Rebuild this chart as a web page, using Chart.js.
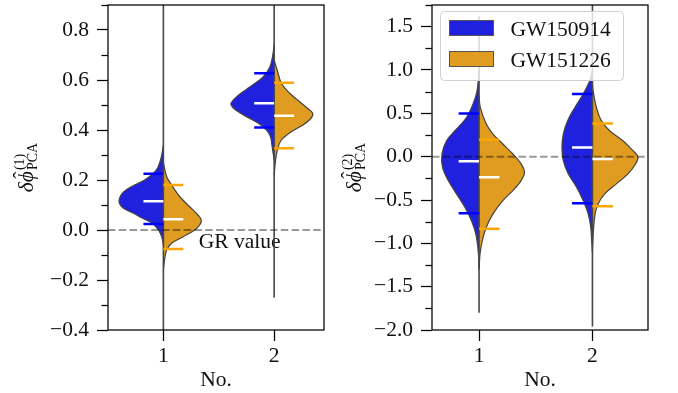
<!DOCTYPE html>
<html><head><meta charset="utf-8">
<script src="https://cdn.jsdelivr.net/npm/chart.js@4/dist/chart.umd.min.js"></script>
<style>
html,body{margin:0;padding:0;background:#fff;}
#wrap{position:relative;width:678px;height:393px;overflow:hidden;}
canvas{position:absolute;top:0;}
#c1{left:0;} #c2{left:339px;}
</style></head><body>
<div id="wrap"><canvas id="c1" width="339" height="393"></canvas><canvas id="c2" width="339" height="393"></canvas></div>
<script>
// ---------- data ----------
const categories = ['1', '2'];
const catPositions = [1, 2];
const seriesNames = ['GW150914', 'GW151226'];

// Panel 1: violin outlines (value, half-width), top -> bottom
const p1BlueCat1Val = [0.34, 0.29, 0.25, 0.227, 0.2, 0.173, 0.147, 0.113, 0.087, 0.067, 0.047, 0.027, 0.0, -0.027, -0.06];
const p1BlueCat1Wid = [0, 0.02, 0.05, 0.09, 0.17, 0.29, 0.37, 0.40, 0.36, 0.27, 0.19, 0.10, 0.045, 0.015, 0];
const p1OrangeCat1Val = [0.27, 0.213, 0.18, 0.133, 0.093, 0.06, 0.04, 0.02, 0.0, -0.027, -0.053, -0.08, -0.113, -0.16];
const p1OrangeCat1Wid = [0, 0.03, 0.074, 0.149, 0.238, 0.312, 0.342, 0.328, 0.283, 0.179, 0.074, 0.03, 0.013, 0];
const p1BlueCat2Val = [0.74, 0.693, 0.653, 0.613, 0.573, 0.54, 0.507, 0.487, 0.46, 0.427, 0.4, 0.373, 0.333, 0.28];
const p1BlueCat2Wid = [0, 0.015, 0.038, 0.098, 0.217, 0.321, 0.39, 0.366, 0.277, 0.143, 0.069, 0.033, 0.018, 0];
const p1OrangeCat2Val = [0.68, 0.627, 0.587, 0.547, 0.513, 0.487, 0.467, 0.447, 0.42, 0.393, 0.36, 0.32, 0.28, 0.22];
const p1OrangeCat2Wid = [0, 0.036, 0.065, 0.14, 0.23, 0.30, 0.348, 0.333, 0.259, 0.154, 0.065, 0.029, 0.013, 0];
const p1BlueLow = [0.024, 0.41], p1BlueMed = [0.115, 0.507], p1BlueHigh = [0.225, 0.627];
const p1OrangeLow = [-0.076, 0.327], p1OrangeMed = [0.043, 0.457], p1OrangeHigh = [0.18, 0.589];
const p1TailTop = [0.95, 0.95], p1TailBottom = [-0.45, -0.27];
const p1YMajor = [-0.4, -0.2, 0.0, 0.2, 0.4, 0.6, 0.8];
const p1YMinor = [-0.3, -0.1, 0.1, 0.3, 0.5, 0.7, 0.9];

// Panel 2
const p2BlueCat1Val = [1.0, 0.76, 0.607, 0.452, 0.299, 0.184, 0.031, -0.123, -0.276, -0.429, -0.584, -0.737, -0.89, -1.044, -1.159, -1.3];
const p2BlueCat1Wid = [0, 0.0175, 0.053, 0.111, 0.213, 0.287, 0.327, 0.322, 0.272, 0.199, 0.125, 0.068, 0.029, 0.011, 0.004, 0];
const p2OrangeCat1Val = [0.7, 0.568, 0.376, 0.261, 0.146, 0.031, -0.084, -0.181, -0.276, -0.391, -0.507, -0.66, -0.814, -0.967, -1.12, -1.3];
const p2OrangeCat1Wid = [0, 0.011, 0.064, 0.123, 0.21, 0.298, 0.371, 0.401, 0.371, 0.298, 0.21, 0.123, 0.064, 0.029, 0.009, 0];
const p2BlueCat2Val = [1.0, 0.875, 0.722, 0.568, 0.414, 0.261, 0.107, -0.046, -0.199, -0.353, -0.507, -0.66, -0.814, -0.967, -1.1];
const p2BlueCat2Wid = [0, 0.024, 0.082, 0.155, 0.219, 0.257, 0.269, 0.257, 0.213, 0.14, 0.082, 0.038, 0.015, 0.007, 0];
const p2OrangeCat2Val = [0.85, 0.76, 0.568, 0.414, 0.299, 0.184, 0.089, 0.0, -0.084, -0.199, -0.314, -0.429, -0.545, -0.66, -0.814, -0.967, -1.1];
const p2OrangeCat2Wid = [0, 0.006, 0.035, 0.079, 0.152, 0.269, 0.342, 0.401, 0.38, 0.313, 0.211, 0.108, 0.05, 0.024, 0.011, 0.004, 0];
const p2BlueLow = [-0.653, -0.537], p2BlueMed = [-0.054, 0.107], p2BlueHigh = [0.499, 0.722];
const p2OrangeLow = [-0.833, -0.572], p2OrangeMed = [-0.238, -0.027], p2OrangeHigh = [0.196, 0.384];
const p2TailTop = [1.62, 1.8], p2TailBottom = [-1.80, -1.96];
const p2YMajor = [-2.0, -1.5, -1.0, -0.5, 0.0, 0.5, 1.0, 1.5];
const p2YMinor = [-1.75, -1.25, -0.75, -0.25, 0.25, 0.75, 1.25, 1.75];

const grValue = 0.0;
const grLabel = 'GR value';

// ---------- styles ----------
const FONT = "'Liberation Serif', 'Times New Roman', serif";
const FS = 21.5;
const BLUE_FILL = '#2020df', ORANGE_FILL = '#df9c20';
const BLUE_MARK = '#0000ff', ORANGE_MARK = '#ffa500';
const EDGE = '#444444';
const MARK_LEN = 0.18;

function outline(c, vals, wids, side) {
  return vals.map((v, i) => ({x: c + side * wids[i], y: v}));
}
function marks(values, side) {
  const out = [];
  values.forEach((v, i) => {
    const c = catPositions[i];
    out.push({x: c, y: v}, {x: c + side * MARK_LEN, y: v}, {x: c, y: null});
  });
  return out;
}
function sticks(top, bottom) {
  const out = [];
  top.forEach((t, i) => { out.push({x: catPositions[i], y: t}, {x: catPositions[i], y: bottom[i]}, {x: catPositions[i], y: null}); });
  return out;
}
function lineDs(data, color, width, extra) {
  return Object.assign({type: 'line', data, borderColor: color, borderWidth: width, pointRadius: 0, fill: false, tension: 0, spanGaps: false}, extra || {});
}
function halfDs(label, data, fillColor) {
  return {type: 'line', label, data, borderColor: EDGE, borderWidth: 1.2, backgroundColor: fillColor, pointRadius: 0, fill: 'shape', tension: 0.35};
}

function fmt(v) { return (Math.abs(v) < 1e-9 ? 0 : v).toFixed(1).replace('-', '\u2212'); }
const isIn = (arr, v) => arr.some(a => Math.abs(a - v) < 1e-6);

function buildPanel(id, P) {
  const datasets = [
    lineDs(marks(P.blueMed, -1).concat(marks(P.orangeMed, 1)), '#ffffff', 2.5),
    lineDs(marks(P.blueLow, -1).concat(marks(P.blueHigh, -1)), BLUE_MARK, 2.5),
    lineDs(marks(P.orangeLow, 1).concat(marks(P.orangeHigh, 1)), ORANGE_MARK, 2.5),
    lineDs([{x: P.xMin, y: grValue}, {x: P.xMax, y: grValue}], 'rgba(0,0,0,0.4)', 2, {borderDash: [7.5, 3.3]}),
    lineDs(sticks(P.tailTop, P.tailBottom), '#474747', 1.6),
    halfDs(seriesNames[0], outline(catPositions[0], P.b1v, P.b1w, -1), BLUE_FILL),
    halfDs(seriesNames[0], outline(catPositions[1], P.b2v, P.b2w, -1), BLUE_FILL),
    halfDs(seriesNames[1], outline(catPositions[0], P.o1v, P.o1w, 1), ORANGE_FILL),
    halfDs(seriesNames[1], outline(catPositions[1], P.o2v, P.o2w, 1), ORANGE_FILL)
  ];

  const decor = {
    id: 'decor' + id,
    beforeDatasetsDraw(chart) {
      if (!P.grText) return;
      const {ctx, scales} = chart;
      ctx.save();
      ctx.font = FS + 'px ' + FONT;
      ctx.fillStyle = '#111';
      ctx.textBaseline = 'alphabetic';
      ctx.textAlign = 'left';
      ctx.fillText(grLabel, scales.x.getPixelForValue(P.grTextX), scales.y.getPixelForValue(grValue) + 18);
      ctx.restore();
    },
    afterDatasetsDraw(chart) {
      if (!P.legend) return;
      const {ctx, chartArea: a} = chart;
      ctx.save();
      const bx = a.left + 8.5, by = a.top + 6.5, bw = 183, bh = 69;
      ctx.beginPath();
      ctx.roundRect(bx, by, bw, bh, 4);
      ctx.fillStyle = 'rgba(255,255,255,0.8)';
      ctx.fill();
      ctx.strokeStyle = '#d0d0d0';
      ctx.lineWidth = 1;
      ctx.stroke();
      const cols = [BLUE_FILL, ORANGE_FILL];
      seriesNames.forEach((name, i) => {
        const py = by + 9 + i * 31;
        ctx.fillStyle = cols[i];
        ctx.fillRect(bx + 9, py, 44, 15);
        ctx.strokeStyle = '#555';
        ctx.lineWidth = 1;
        ctx.strokeRect(bx + 9, py, 44, 15);
        ctx.fillStyle = '#111';
        ctx.font = FS + 'px ' + FONT;
        ctx.textBaseline = 'alphabetic';
        ctx.textAlign = 'left';
        ctx.fillText(name, bx + 70, py + 15);
      });
      ctx.restore();
    },
    afterDraw(chart) {
      const {ctx, chartArea: a, scales} = chart;
      ctx.save();
      ctx.strokeStyle = '#000';
      ctx.lineWidth = 1.25;
      // minor ticks
      scales.y.ticks.forEach(t => {
        if (!isIn(P.yMajor, t.value)) {
          const py = Math.round(scales.y.getPixelForValue(t.value)) + 0.5;
          ctx.beginPath(); ctx.moveTo(a.left, py); ctx.lineTo(a.left - 6.5, py); ctx.stroke();
        }
      });
      // frame
      ctx.strokeRect(a.left, a.top, a.right - a.left, a.bottom - a.top);
      // y title (rotated math text)
      const yc = (a.top + a.bottom) / 2;
      ctx.translate(a.left - P.titleOff, yc);
      ctx.rotate(-Math.PI / 2);
      ctx.fillStyle = '#111';
      ctx.textBaseline = 'alphabetic';
      ctx.textAlign = 'left';
      const mainF = 'italic ' + FS + 'px ' + FONT;
      const smallF = '14px ' + FONT;
      ctx.font = mainF;
      const wd = ctx.measureText('\u03b4').width;
      const wp = ctx.measureText('\u03d5').width;
      ctx.font = smallF;
      const wsup = ctx.measureText('(' + P.idx + ')').width;
      const wsub = ctx.measureText('PCA').width;
      const total = wd + wp + 1 + Math.max(wsup, wsub);
      let u = -total / 2;
      ctx.font = mainF;
      ctx.fillText('\u03b4', u, 0);
      ctx.fillText('\u03d5', u + wd, 0);
      ctx.textAlign = 'center';
      ctx.font = FS + 'px ' + FONT;
      ctx.fillText('\u02c6', u + wd + wp / 2 + 1.5, -5);
      ctx.textAlign = 'left';
      ctx.font = smallF;
      const us = u + wd + wp + 1;
      ctx.fillText('(' + P.idx + ')', us, -9);
      ctx.fillText('PCA', us, 4);
      ctx.restore();
    }
  };

  return new Chart(document.getElementById(id), {
    type: 'line',
    data: {datasets},
    options: {
      responsive: false,
      animation: false,
      devicePixelRatio: 1,
      events: [],
      layout: {padding: {left: 0, top: 5, right: P.padRight, bottom: 0}},
      plugins: {legend: {display: false}, tooltip: {enabled: false}},
      scales: {
        x: {
          type: 'linear', position: 'bottom', min: P.xMin, max: P.xMax,
          afterBuildTicks: (s) => { s.ticks = catPositions.map(v => ({value: v})); },
          afterFit: (s) => { s.height = 63; s.paddingLeft = 0; s.paddingRight = 0; },
          ticks: {autoSkip: false, maxRotation: 0, padding: 2, color: '#111', font: {family: FONT, size: FS},
                  callback: (v) => categories[catPositions.indexOf(v)] ?? ''},
          grid: {drawOnChartArea: false, drawTicks: true, tickLength: 11, tickWidth: 1.25, tickColor: '#000'},
          border: {display: false},
          title: {display: true, text: 'No.', color: '#111', font: {family: FONT, size: FS}, padding: {top: 0, bottom: 0}}
        },
        y: {
          type: 'linear', position: 'left', min: P.yMin, max: P.yMax,
          afterBuildTicks: (s) => { s.ticks = P.yMajor.concat(P.yMinor).sort((a, b) => a - b).map(v => ({value: v})); },
          afterFit: (s) => { s.width = P.yAxisW; s.paddingTop = 0; s.paddingBottom = 0; },
          ticks: {autoSkip: false, padding: 8, color: '#111', font: {family: FONT, size: FS},
                  callback: (v) => isIn(P.yMajor, v) ? fmt(v) : ''},
          grid: {drawOnChartArea: false, drawTicks: true, tickLength: 11, tickWidth: 1.25,
                 tickColor: (ctx) => (ctx.tick && isIn(P.yMajor, ctx.tick.value)) ? '#000' : 'rgba(0,0,0,0)'},
          border: {display: false}
        }
      }
    },
    plugins: [decor]
  });
}

buildPanel('c1', {
  b1v: p1BlueCat1Val, b1w: p1BlueCat1Wid, o1v: p1OrangeCat1Val, o1w: p1OrangeCat1Wid,
  b2v: p1BlueCat2Val, b2w: p1BlueCat2Wid, o2v: p1OrangeCat2Val, o2w: p1OrangeCat2Wid,
  blueLow: p1BlueLow, blueMed: p1BlueMed, blueHigh: p1BlueHigh,
  orangeLow: p1OrangeLow, orangeMed: p1OrangeMed, orangeHigh: p1OrangeHigh,
  tailTop: p1TailTop, tailBottom: p1TailBottom, yMajor: p1YMajor, yMinor: p1YMinor,
  xMin: 0.5, xMax: 2.45, yMin: -0.4, yMax: 0.9, yAxisW: 108, padRight: 15,
  idx: '1', titleOff: 75, grText: true, grTextX: 1.32, legend: false
});
buildPanel('c2', {
  b1v: p2BlueCat1Val, b1w: p2BlueCat1Wid, o1v: p2OrangeCat1Val, o1w: p2OrangeCat1Wid,
  b2v: p2BlueCat2Val, b2w: p2BlueCat2Wid, o2v: p2OrangeCat2Val, o2w: p2OrangeCat2Wid,
  blueLow: p2BlueLow, blueMed: p2BlueMed, blueHigh: p2BlueHigh,
  orangeLow: p2OrangeLow, orangeMed: p2OrangeMed, orangeHigh: p2OrangeHigh,
  tailTop: p2TailTop, tailBottom: p2TailBottom, yMajor: p2YMajor, yMinor: p2YMinor,
  xMin: 0.585, xMax: 2.49, yMin: -2.0, yMax: 1.75, yAxisW: 93, padRight: 30,
  idx: '2', titleOff: 71, grText: false, legend: true
});
</script>
</body></html>
